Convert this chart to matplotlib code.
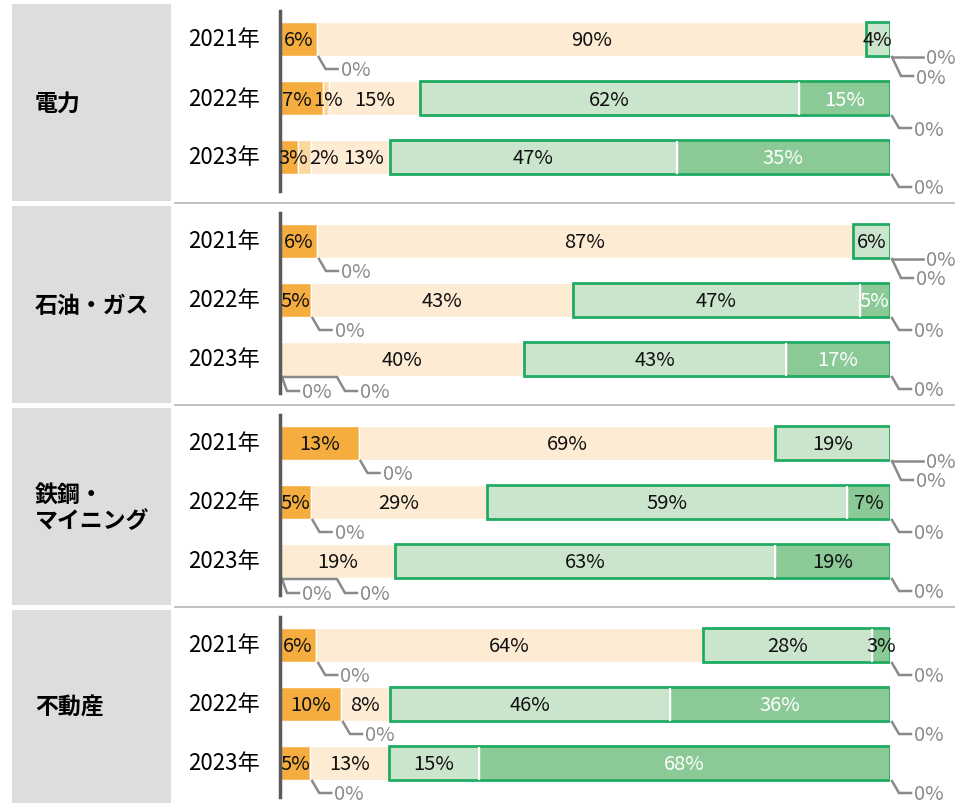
import matplotlib.pyplot as plt
from matplotlib.patches import Rectangle
from matplotlib import transforms

plt.rcParams['font.family'] = ['Noto Sans CJK JP', 'DejaVu Sans']

sectors = ['電力', '石油・ガス', '鉄鋼・\nマイニング', '不動産']
years = ['2021年', '2022年', '2023年']

# one row per year, six categories per row (in %)
power = [[6, 0, 90, 4, 0, 0], [7, 1, 15, 62, 15, 0], [3, 2, 13, 47, 35, 0]]
oil_gas = [[6, 0, 87, 6, 0, 0], [5, 0, 43, 47, 5, 0], [0, 0, 40, 43, 17, 0]]
steel = [[13, 0, 69, 19, 0, 0], [5, 0, 29, 59, 7, 0], [0, 0, 19, 63, 19, 0]]
real_estate = [[6, 0, 64, 28, 3, 0], [10, 0, 8, 46, 36, 0], [5, 0, 13, 15, 68, 0]]
groups = [power, oil_gas, steel, real_estate]

colors = ['#F5AD3F', '#FBD8A0', '#FDEBD3', '#CBE5CD', '#8BC997', '#3E9C5A']
edge_green = '#1FAB62'
grey = '#8A8A8A'
# rows whose darker green segment carries a white label
white_rows = {(0, 1), (0, 2), (1, 1), (1, 2), (3, 1), (3, 2)}
# sideways nudges (px) for crowded labels: (group, year, category) -> dx
nudges = {(0, 1, 0): -4, (0, 1, 1): 2, (0, 2, 0): 4, (0, 2, 1): 20, (0, 2, 2): 13}

W, H = 955, 804
fig = plt.figure(figsize=(W / 100, H / 100), dpi=100)
ax = fig.add_axes([280 / W, 0, 610 / W, 1])
ax.set_xlim(0, 100)
ax.set_ylim(H, 0)
ax.axis('off')

PX = 100 / 610          # data units per pixel along x
TOP, ROW, GROUP, BAR_H = 40, 59, 202, 34
LABEL_FS = 14.5
fig_x = transforms.blended_transform_factory(fig.transFigure, ax.transData)


def zero_label(x0, yb, dx=7, dy=12, run=0):
    """grey leader line and 0% text hanging under a bar"""
    xs = [x0 + 2 * PX, x0 + (2 + run) * PX, x0 + (2 + run + dx) * PX,
          x0 + (2 + run + dx + 12) * PX]
    ys = [yb + 1, yb + 1, yb + 1 + dy, yb + 1 + dy]
    ax.plot(xs, ys, color=grey, lw=1.8, clip_on=False, solid_joinstyle='miter')
    ax.text(xs[-1] + 3 * PX, yb + 2 + dy, '0%', color=grey, fontsize=LABEL_FS,
            ha='left', va='center')


for gi, (name, rows) in enumerate(zip(sectors, groups)):
    y0 = TOP + gi * GROUP
    top, bottom = y0 - 35, min(y0 + 2 * ROW + 44, H)
    fig.add_artist(Rectangle((12 / W, top), 159 / W, bottom - top,
                             transform=fig_x, color='#DCDDDD', lw=0, zorder=-1))
    if gi < len(groups) - 1:
        fig.add_artist(plt.Line2D([175 / W, 1], [bottom + 1.5, bottom + 1.5],
                                  transform=fig_x, color='#B5B5B5', lw=1.2,
                                  zorder=-1))
    ax.text(35 / W, (top + bottom) / 2 + 1, name, transform=fig_x, fontsize=16.5,
            fontweight='bold', ha='left', va='center', linespacing=1.15)

    ax.plot([0, 0], [y0 - 28, y0 + 2 * ROW + 34], color='#5A5A5A', lw=2.5,
            clip_on=False, zorder=5)

    for yi, vals in enumerate(rows):
        y = y0 + yi * ROW
        ax.text(188 / W, y, years[yi], transform=fig_x, fontsize=16,
                ha='left', va='center')
        total = sum(vals)
        shares = [v / total * 100 for v in vals]
        lefts = [sum(shares[:k]) for k in range(len(shares))]

        for k, (v, s, l) in enumerate(zip(vals, shares, lefts)):
            if v == 0:
                continue
            ax.barh(y, s, left=l, height=BAR_H, color=colors[k],
                    edgecolor='white', lw=1, zorder=2)

        # outline round the green part of the bar
        g_left, g_width = lefts[3], shares[3] + shares[4]
        if g_width > 0:
            ax.add_patch(Rectangle((g_left, y - BAR_H / 2), g_width, BAR_H,
                                   fill=False, edgecolor=edge_green, lw=2,
                                   zorder=3))
            if vals[3] > 0 and vals[4] > 0:
                ax.plot([lefts[4], lefts[4]], [y - BAR_H / 2 + 1.5, y + BAR_H / 2 - 1.5],
                        color='white', lw=1.5, zorder=4)

        for k, (v, s, l) in enumerate(zip(vals, shares, lefts)):
            if v == 0:
                continue
            tc = 'white' if (k == 4 and (gi, yi) in white_rows) else '#111111'
            xc = l + s / 2 + nudges.get((gi, yi, k), 0) * PX
            ax.text(xc, y + 1, f'{v}%', color=tc, fontsize=LABEL_FS,
                    ha='center', va='center', zorder=6)

        # zero-valued categories: labels below the bar, grouped by position
        yb = y + BAR_H / 2
        anchors = {}
        for k, v in enumerate(vals):
            if v == 0:
                anchors.setdefault(round(lefts[k], 6), []).append(k)
        for x0, ks in anchors.items():
            if len(ks) == 1:
                zero_label(x0, yb)
            elif x0 >= 99.9:
                zero_label(x0, yb, dx=0, dy=0, run=19)
                zero_label(x0, yb, dx=9, dy=19)
            else:
                zero_label(x0, yb, dx=5, dy=14)
                zero_label(x0, yb, dx=8, dy=14, run=55)

fig.savefig('out.png', dpi=100)
